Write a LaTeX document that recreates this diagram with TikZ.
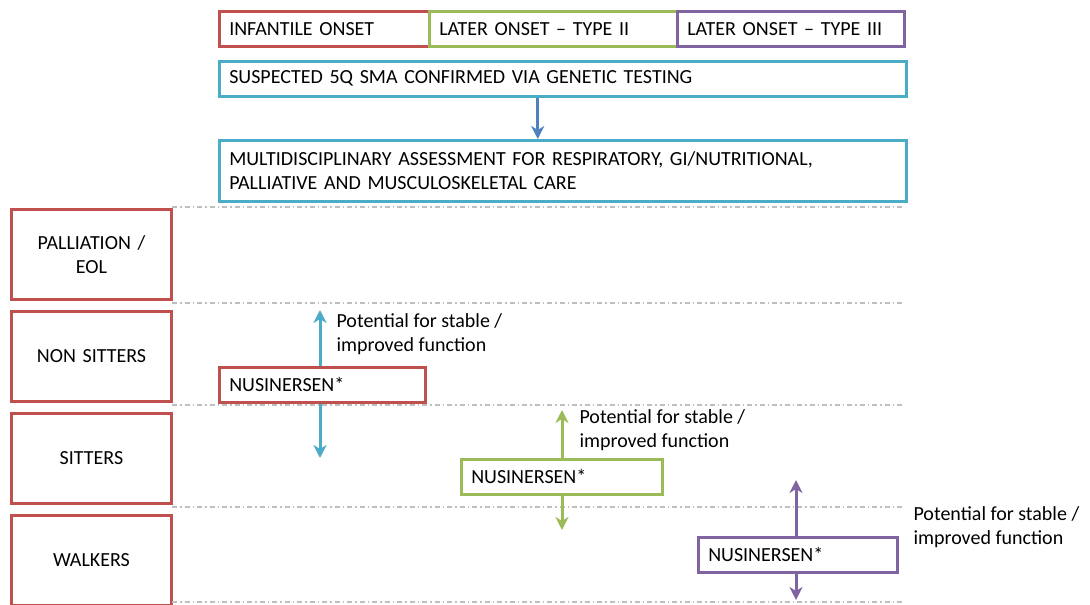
\documentclass[tikz,border=0pt]{standalone}
\usepackage{fontspec}
\setmainfont{Carlito}
\definecolor{smared}{RGB}{192,80,77}
\definecolor{smagreen}{RGB}{155,187,89}
\definecolor{smapurple}{RGB}{128,100,162}
\definecolor{smacyan}{RGB}{75,172,198}
\definecolor{smablue}{RGB}{79,129,189}
\definecolor{smagray}{RGB}{190,190,190}
\usetikzlibrary{arrows.meta,positioning}

\begin{document}
\begin{tikzpicture}[x=1pt, y=-1pt,
        txtbox/.style={rectangle, draw, line width=2.5pt, minimum height=35pt,
                       inner xsep=10pt, align=left, anchor=north west,
                       font=\fontsize{20}{24.5}\selectfont},
        lvlbox/.style={rectangle, draw=smared, line width=3pt, minimum height=90pt,
                       text width=140pt, inner xsep=10pt, align=center,
                       anchor=north west, font=\fontsize{20}{24.5}\selectfont},
        sepline/.style={smagray, line width=1.2pt,
                        dash pattern=on 5pt off 3pt on 1.5pt off 3pt},
        uparr/.style={-{Stealth[length=13pt,width=13pt,inset=4pt]}, line width=3pt},
        note/.style={anchor=west, align=left, font=\fontsize{20}{24.5}\selectfont}
      ]
        \useasboundingbox (0,0) rectangle (1090,605);
        % Onset types
        \node[txtbox, draw=smared, text width=190pt] (infant) at (218,10) {INFANTILE ONSET};
        \node[txtbox, draw=smagreen, text width=228pt] (type2) at (428,10) {LATER ONSET -- TYPE II};
        \node[txtbox, draw=smapurple, text width=207pt] (type3) at (676,10) {LATER ONSET -- TYPE III};
        % Diagnosis and assessment
        \node[txtbox, draw=smacyan, text width=667pt] (susp) at (218,60)
          {SUSPECTED 5Q SMA CONFIRMED VIA GENETIC TESTING};
        \node[txtbox, draw=smacyan, text width=667pt, minimum height=61pt] (multi) at (218,139)
          {MULTIDISCIPLINARY ASSESSMENT FOR RESPIRATORY, GI/NUTRITIONAL,\\PALLIATIVE AND MUSCULOSKELETAL CARE};
        \draw[uparr, smablue] ([xshift=-25pt]susp.south) -- ([xshift=-25pt]multi.north);
        % Functional levels
        \node[lvlbox] (pall) at (10,208) {PALLIATION /\\EOL};
        \node[lvlbox] (nonsit) at (10,310) {NON SITTERS};
        \node[lvlbox] (sit) at (10,412) {SITTERS};
        \node[lvlbox] (walk) at (10,514) {WALKERS};
        \foreach \y in {207,303,405,507,602}
          \draw[sepline] (172,\y) -- (905,\y);
        % Treatment per onset
        \node[txtbox, draw=smared, text width=186pt] (nus1) at (218,366) {NUSINERSEN*};
        \node[txtbox, draw=smagreen, text width=181pt] (nus2) at (460,458) {NUSINERSEN*};
        \node[txtbox, draw=smapurple, text width=179pt] (nus3) at (697,536) {NUSINERSEN*};
        \coordinate (up1) at (320,310);
        \coordinate (dn1) at (320,458);
        \coordinate (up2) at (562,410);
        \coordinate (dn2) at (562,530);
        \coordinate (up3) at (796,480);
        \coordinate (dn3) at (796,600);
        \draw[uparr, smacyan] (nus1.north -| up1) -- (up1);
        \draw[uparr, smacyan] (nus1.south -| dn1) -- (dn1);
        \draw[uparr, smagreen] (nus2.north -| up2) -- (up2);
        \draw[uparr, smagreen] (nus2.south -| dn2) -- (dn2);
        \draw[uparr, smapurple] (nus3.north -| up3) -- (up3);
        \draw[uparr, smapurple] (nus3.south -| dn3) -- (dn3);
        \node[note] (pot1) at (333,334) {Potential for stable /\\improved function};
        \node[note] (pot2) at (576,430) {Potential for stable /\\improved function};
        \node[note] (pot3) at (910,527) {Potential for stable /\\improved function};
      \end{tikzpicture}
\end{document}
